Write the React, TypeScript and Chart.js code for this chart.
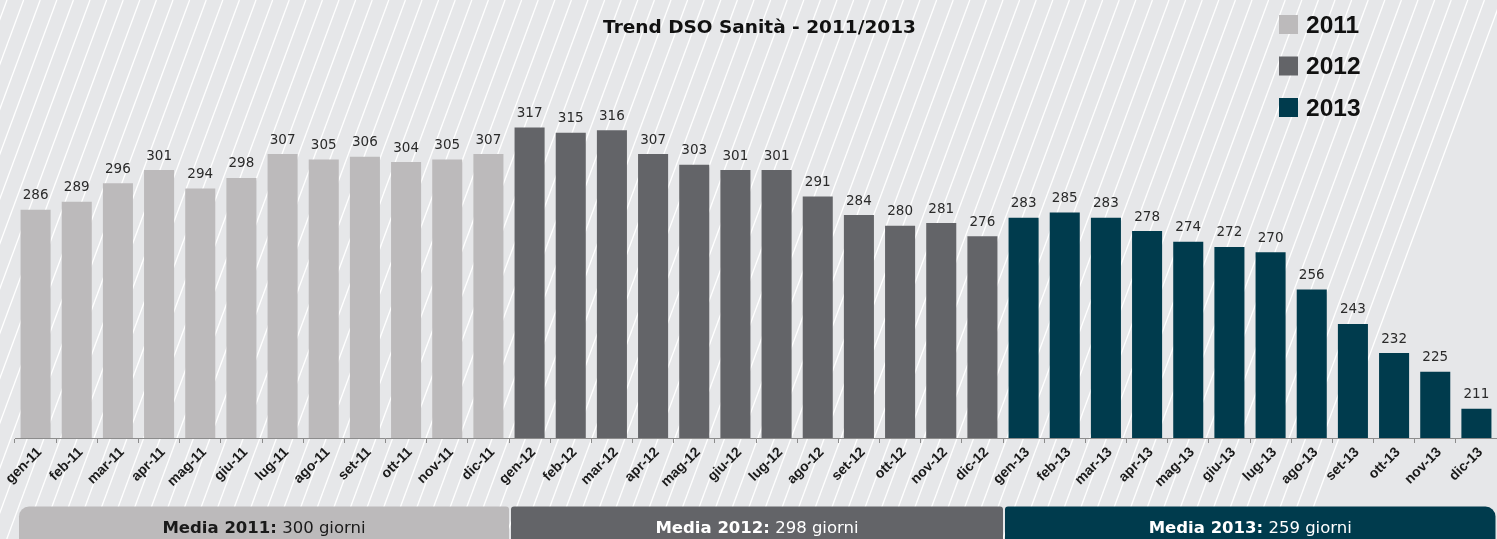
import React, { useEffect, useRef } from "react";
import { Chart, registerables } from "chart.js";

Chart.register(...registerables);

const months = ["gen", "feb", "mar", "apr", "mag", "giu", "lug", "ago", "set", "ott", "nov", "dic"];
const yearSuffixes = ["11", "12", "13"];
const categories = yearSuffixes.flatMap((y) => months.map((m) => `${m}-${y}`));
const values2011 = [286, 289, 296, 301, 294, 298, 307, 305, 306, 304, 305, 307];
const values2012 = [317, 315, 316, 307, 303, 301, 301, 291, 284, 280, 281, 276];
const values2013 = [283, 285, 283, 278, 274, 272, 270, 256, 243, 232, 225, 211];
const legendLabels = ["2011", "2012", "2013"];
const averages = [300, 298, 259];
const yearColors = ["#bcbabb", "#636468", "#003b4d"];
const bandTextColors = ["#1a1a1a", "#ffffff", "#ffffff"];
const chartTitle = "Trend DSO Sanità - 2011/2013";

const allValues = [...values2011, ...values2012, ...values2013];
const barColors = [
  ...values2011.map(() => yearColors[0]),
  ...values2012.map(() => yearColors[1]),
  ...values2013.map(() => yearColors[2]),
];

const decorPlugin = {
  id: "decor",
  beforeDraw(chart: any) {
    const ctx = chart.ctx;
    const w = chart.width;
    const h = chart.height;
    ctx.save();
    ctx.fillStyle = "#e6e7e9";
    ctx.fillRect(0, 0, w, h);
    ctx.strokeStyle = "#ffffff";
    ctx.lineWidth = 1.3;
    const slope = 0.37;
    const step = 16.6;
    for (let x0 = 7 - 60 * step; x0 < w + step; x0 += step) {
      ctx.beginPath();
      ctx.moveTo(x0, 0);
      ctx.lineTo(x0 - h * slope, h);
      ctx.stroke();
    }
    ctx.restore();
  },
  afterDatasetsDraw(chart: any) {
    const ctx = chart.ctx;
    const meta = chart.getDatasetMeta(0);
    ctx.save();
    ctx.font = '13.5px "DejaVu Sans"';
    ctx.fillStyle = "#2a2a2a";
    ctx.textAlign = "center";
    ctx.textBaseline = "alphabetic";
    meta.data.forEach((bar: any, i: number) => {
      ctx.fillText(String(allValues[i]), bar.x, bar.y - 10.5);
    });
    ctx.restore();
  },
  afterDraw(chart: any) {
    const ctx = chart.ctx;
    const xs = chart.scales.x;
    ctx.save();
    // title
    ctx.font = 'bold 18.5px "DejaVu Sans"';
    ctx.fillStyle = "#111111";
    ctx.textAlign = "center";
    ctx.textBaseline = "alphabetic";
    ctx.fillText(chartTitle, 759.5, 33);
    // legend
    legendLabels.forEach((lab, i) => {
      const y = 15 + i * 41.5;
      ctx.fillStyle = yearColors[i];
      ctx.fillRect(1279, y, 19, 19);
      ctx.fillStyle = "#111111";
      ctx.font = 'bold 24.5px "Liberation Sans"';
      ctx.textAlign = "left";
      ctx.fillText(lab, 1306, y + 17.8);
    });
    // average bands
    const n = categories.length;
    const catW = (xs.right - xs.left) / n;
    const boundary = (k: number) => xs.left + k * catW;
    averages.forEach((avg, i) => {
      const x1 = boundary(i * 12) + (i === 0 ? 4 : 2);
      const x2 = boundary((i + 1) * 12) - (i === 2 ? 1.5 : 0);
      const top = 506.5;
      const bottom = 548;
      const r = 10;
      const radii = [i === 0 ? r : 3, i === 2 ? r : 3, r, r];
      ctx.fillStyle = yearColors[i];
      ctx.beginPath();
      (ctx as any).roundRect(x1, top, x2 - x1, bottom - top, radii);
      ctx.fill();
      const boldPart = `Media ${legendLabels[i]}:`;
      const normalPart = ` ${avg} giorni`;
      const fb = 'bold 16.5px "DejaVu Sans"';
      const fn = '16.5px "DejaVu Sans"';
      ctx.font = fb;
      const wb = ctx.measureText(boldPart).width;
      ctx.font = fn;
      const wn = ctx.measureText(normalPart).width;
      const cx = (x1 + x2) / 2;
      const startX = cx - (wb + wn) / 2;
      ctx.fillStyle = bandTextColors[i];
      ctx.textAlign = "left";
      ctx.font = fb;
      ctx.fillText(boldPart, startX, 532.5);
      ctx.font = fn;
      ctx.fillText(normalPart, startX + wb, 532.5);
    });
    ctx.restore();
  },
};

export default function App() {
  const ref = useRef<HTMLCanvasElement | null>(null);
  useEffect(() => {
    if (!ref.current) return;
    const chart = new Chart(ref.current, {
      type: "bar",
      data: {
        labels: categories,
        datasets: [
          {
            data: allValues,
            backgroundColor: barColors,
            borderWidth: 0,
            barPercentage: 0.73,
            categoryPercentage: 1,
          },
        ],
      },
      options: {
        responsive: false,
        animation: false,
        layout: { padding: { left: 15, right: 0, top: 40, bottom: 0 } },
        plugins: {
          legend: { display: false },
          title: { display: false },
          tooltip: { enabled: false },
        },
        scales: {
          y: { display: false, min: 200, max: 350 },
          x: {
            offset: true,
            grid: {
              offset: true,
              drawOnChartArea: false,
              drawTicks: true,
              tickLength: 5,
              color: "#8c8c8c",
            },
            border: { color: "#8c8c8c", width: 1 },
            ticks: {
              minRotation: 45,
              maxRotation: 45,
              autoSkip: false,
              color: "#1a1a1a",
              padding: 1,
              labelOffset: 4,
              font: { family: "Liberation Sans", weight: "bold", size: 14 },
            },
            afterFit: (s: any) => {
              s.height = 101;
              s.paddingLeft = 0;
              s.paddingRight = 0;
            },
          },
        },
      },
      plugins: [decorPlugin],
    });
    return () => chart.destroy();
  }, []);
  return (
    <div style={{ position: "fixed", left: 0, top: 0, width: 1497, height: 539 }}>
      <canvas ref={ref} width={1497} height={539} style={{ display: "block" }} />
    </div>
  );
}
